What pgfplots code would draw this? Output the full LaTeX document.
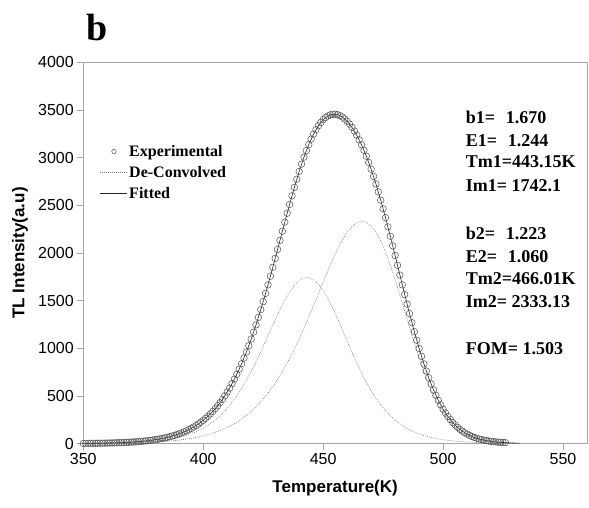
\documentclass[border=0pt]{standalone}
\usepackage{pgfplots}
\usepackage{pgfplotstable}
\pgfplotsset{compat=1.18}
\usepackage{fontspec}
\setmainfont{Liberation Serif}
\newfontfamily\arial{Liberation Sans}

\definecolor{expgray}{HTML}{505050}
\definecolor{dotgray}{HTML}{7A7A7A}
\definecolor{axgray}{HTML}{A6A6A6}

\pgfplotsset{
    leg mark/.style={legend image code/.code={\draw[##1, mark size=2.2pt] plot coordinates {(13.5pt,0pt)};}},
    leg line/.style={legend image code/.code={\draw[##1] (0pt,0pt) -- (27pt,0pt);}},
}

\pgfplotstableread{
T I
350 2.0
351 2.2
352 2.5
353 2.8
354 3.1
355 3.4
356 3.8
357 4.2
358 4.7
359 5.2
360 5.8
361 6.4
362 7.0
363 7.8
364 8.6
365 9.5
366 10.5
367 11.6
368 12.9
369 14.3
370 15.8
371 17.4
372 19.2
373 21.1
374 23.2
375 25.6
376 28.2
377 31.0
378 34.1
379 37.6
380 41.4
381 45.5
382 49.9
383 54.7
384 60.0
385 65.7
386 72.0
387 78.8
388 86.2
389 94.3
390 103.1
391 112.6
392 123.0
393 134.2
394 146.4
395 159.7
396 174.0
397 189.5
398 206.2
399 224.3
400 243.9
401 264.9
402 287.6
403 312.0
404 338.3
405 366.6
406 396.9
407 429.4
408 464.1
409 501.2
410 540.9
411 583.2
412 628.3
413 676.2
414 727.0
415 780.8
416 837.6
417 897.6
418 960.8
419 1027.1
420 1096.6
421 1169.3
422 1245.1
423 1323.8
424 1405.2
425 1489.4
426 1576.1
427 1665.1
428 1756.1
429 1848.8
430 1942.7
431 2037.4
432 2132.6
433 2228.0
434 2322.9
435 2416.6
436 2508.9
437 2599.7
438 2688.0
439 2773.2
440 2854.7
441 2932.1
442 3005.0
443 3073.3
444 3136.5
445 3194.4
446 3246.8
447 3293.3
448 3334.0
449 3369.0
450 3398.0
451 3420.7
452 3437.5
453 3448.8
454 3454.6
455 3455.0
456 3450.2
457 3440.6
458 3425.9
459 3406.0
460 3381.2
461 3351.7
462 3317.5
463 3278.6
464 3235.0
465 3186.9
466 3134.3
467 3077.2
468 3015.5
469 2949.3
470 2878.6
471 2803.3
472 2723.8
473 2640.5
474 2553.6
475 2463.2
476 2369.7
477 2273.6
478 2175.2
479 2074.9
480 1973.3
481 1870.8
482 1767.9
483 1665.4
484 1563.6
485 1463.1
486 1364.5
487 1268.3
488 1174.8
489 1084.7
490 998.0
491 915.0
492 835.9
493 761.2
494 690.8
495 625.0
496 563.6
497 506.7
498 454.1
499 405.8
500 361.5
501 321.2
502 284.6
503 251.5
504 221.7
505 195.0
506 171.1
507 149.8
508 130.9
509 114.2
510 99.4
511 86.4
512 75.0
513 65.1
514 56.4
515 48.9
516 42.3
517 36.6
518 31.6
519 27.3
520 23.6
521 20.4
522 17.7
523 15.3
524 13.3
525 11.6
526 10.1
}\expdata

% fitted curve
\pgfplotstableread{
T I
350 2.0
352 2.5
354 3.1
356 3.8
358 4.7
360 5.8
362 7.0
364 8.6
366 10.5
368 12.9
370 15.8
372 19.2
374 23.2
376 28.2
378 34.1
380 41.4
382 49.9
384 60.0
386 72.0
388 86.2
390 103.1
392 123.0
394 146.4
396 174.0
398 206.2
400 243.9
402 287.6
404 338.3
406 396.9
408 464.1
410 540.9
412 628.3
414 727.0
416 837.6
418 960.8
420 1096.6
422 1245.1
424 1405.2
426 1576.1
428 1756.1
430 1942.7
432 2132.6
434 2322.9
436 2508.9
438 2688.0
440 2854.7
442 3005.0
444 3136.5
446 3246.8
448 3334.0
450 3398.0
452 3437.5
454 3454.6
456 3450.2
458 3425.9
460 3381.2
462 3317.5
464 3235.0
466 3134.3
468 3015.5
470 2878.6
472 2723.8
474 2553.6
476 2369.7
478 2175.2
480 1973.3
482 1767.9
484 1563.6
486 1364.5
488 1174.8
490 998.0
492 835.9
494 690.8
496 563.6
498 454.1
500 361.5
502 284.6
504 221.7
506 171.1
508 130.9
510 99.4
512 75.0
514 56.4
516 42.3
518 31.6
520 23.6
522 17.7
524 13.3
526 10.1
528 7.7
530 5.9
532 4.5
}\fitdata

% de-convolved peak 1
\pgfplotstableread{
T I
350 1.0
360 3.1
370 9.0
380 25.1
382 30.6
384 37.2
386 45.1
388 54.5
390 65.8
392 79.3
394 95.2
396 114.1
398 136.3
400 162.4
402 192.9
404 228.3
406 269.4
408 316.6
410 370.7
412 432.1
414 501.4
416 578.5
418 663.8
420 757.0
422 857.4
424 963.6
426 1074.0
428 1186.5
430 1297.9
432 1404.8
434 1503.5
436 1589.3
438 1659.8
440 1710.0
442 1737.4
443.15 1742.1
444 1740.6
446 1719.2
448 1674.0
450 1607.1
452 1521.4
454 1421.2
456 1310.4
458 1194.4
460 1076.3
462 959.5
464 847.3
466 741.8
468 644.4
470 555.9
472 476.6
474 406.4
476 345.0
478 291.8
480 246.0
482 206.8
484 173.4
486 145.1
488 121.3
490 101.3
492 84.5
494 70.5
496 58.7
498 49.0
500 40.8
502 34.0
504 28.4
506 23.7
508 19.8
510 16.5
512 13.8
514 11.6
516 9.7
518 8.1
520 6.8
522 5.8
524 4.9
526 4.2
528 3.5
530 3.0
}\peakone

% de-convolved peak 2
\pgfplotstableread{
T I
350 1.0
360 2.7
370 6.8
380 16.3
382 19.3
384 22.8
386 26.9
388 31.7
390 37.3
392 43.7
394 51.2
396 59.9
398 69.9
400 81.5
402 94.8
404 110.0
406 127.5
408 147.5
410 170.3
412 196.2
414 225.6
416 258.9
418 296.5
420 338.7
422 386.1
424 439.0
426 497.9
428 563.1
430 634.9
432 713.6
434 799.4
436 892.3
438 992.1
440 1098.6
442 1211.0
444 1328.4
446 1449.6
448 1573.0
450 1696.4
452 1817.3
454 1932.8
456 2040.6
458 2136.2
460 2216.6
462 2278.3
464 2318.1
466 2333.5
468 2322.4
470 2284.1
472 2217.6
474 2125.2
476 2008.9
478 1872.4
480 1720.0
482 1556.3
484 1387.2
486 1217.6
488 1052.6
490 896.2
492 751.1
494 620.3
496 504.9
498 405.1
500 320.7
502 250.6
504 193.3
506 147.4
508 111.1
510 82.9
512 61.2
514 44.8
516 32.6
518 23.5
520 16.8
522 11.9
524 8.5
526 6.0
528 4.2
530 2.9
}\peaktwo

\begin{document}
\begin{tikzpicture}
\begin{axis}[
    scale only axis,
    width=503.7pt,
    height=381.3pt,
    xmin=350, xmax=560,
    ymin=0, ymax=4000,
    xtick={350,400,...,550},
    ytick={0,500,...,4000},
    xtick pos=bottom,
    ytick pos=left,
    tick align=outside,
    major tick length=6pt,
    axis line style={axgray, line width=0.8pt},
    tick style={axgray, line width=0.8pt},
    tick label style={font=\arial\fontsize{16}{19}\selectfont},
    /pgf/number format/assume math mode=true,
    /pgf/number format/set thousands separator={},
    xlabel={Temperature(K)},
    ylabel={TL Intensity(a.u)},
    every axis x label/.style={at={(axis description cs:0.5,0)}, yshift=-44.4pt, anchor=center,
        font=\arial\bfseries\fontsize{17}{20}\selectfont},
    every axis y label/.style={at={(axis description cs:0,0.5)}, xshift=-63.3pt, rotate=90, anchor=center,
        font=\arial\bfseries\fontsize{17}{20}\selectfont},
    legend style={at={(axis description cs:0.033,0.787)}, anchor=north west,
        draw=none, fill=none, inner sep=0pt, row sep=5.5pt,
        font=\bfseries\fontsize{16}{18}\selectfont,
        nodes={inner sep=1.5pt}},
    legend cell align=left,
]

\addplot[only marks, mark=o, mark size=3.3pt, color=expgray, line width=0.5pt, leg mark]
    table {\expdata};
\addlegendentry{Experimental}

\addplot[dotgray, line width=0.6pt, dash pattern=on 0.8pt off 1.2pt, leg line]
    table {\peakone};
\addlegendentry{De-Convolved}

\addplot[dotgray, line width=0.6pt, dash pattern=on 0.8pt off 1.2pt, forget plot]
    table {\peaktwo};

\addplot[black!85, line width=0.6pt, leg line]
    table {\fitdata};
\addlegendentry{Fitted}

\coordinate (O) at (rel axis cs:0,1);
\end{axis}

% panel letter and fit parameters
\node[anchor=base west, inner sep=0pt, font=\bfseries\fontsize{38}{40}\selectfont]
    at ([shift={(2.7pt,21.6pt)}]O) {b};
\begin{scope}[every node/.style={anchor=base west, inner sep=0pt,
    font=\bfseries\fontsize{18}{21}\selectfont}]
\node at ([shift={(382.4pt,-61.0pt)}]O) {b1=\hspace{0.6em}1.670};
\node at ([shift={(382.4pt,-83.7pt)}]O) {E1=\hspace{0.6em}1.244};
\node at ([shift={(382.4pt,-105.4pt)}]O) {Tm1=443.15K};
\node at ([shift={(382.4pt,-128.7pt)}]O) {Im1= 1742.1};
\node at ([shift={(382.4pt,-177.0pt)}]O) {b2=\hspace{0.6em}1.223};
\node at ([shift={(382.4pt,-199.7pt)}]O) {E2=\hspace{0.6em}1.060};
\node at ([shift={(382.4pt,-222.0pt)}]O) {Tm2=466.01K};
\node at ([shift={(382.4pt,-244.7pt)}]O) {Im2= 2333.13};
\node at ([shift={(382.4pt,-292.0pt)}]O) {FOM= 1.503};
\end{scope}

\pgfresetboundingbox
\path[use as bounding box] ([shift={(-83.3pt,62.3pt)}]O) rectangle ([shift={(505.7pt,-444.7pt)}]O);
\end{tikzpicture}
\end{document}
